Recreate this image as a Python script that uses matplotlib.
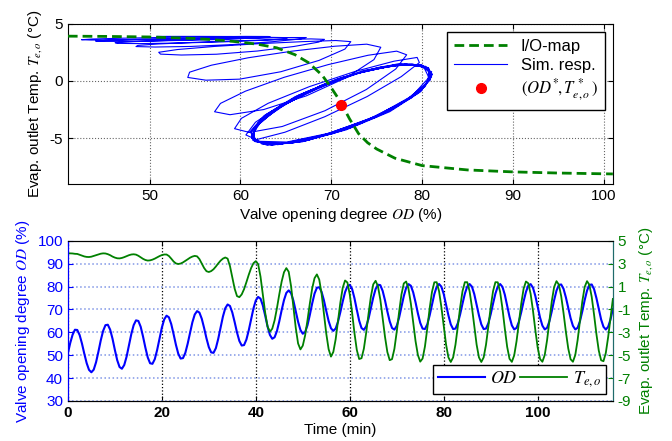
import numpy as np
import matplotlib
matplotlib.use("Agg")
import matplotlib.pyplot as plt

plt.rcParams['font.family'] = ['Liberation Sans', 'DejaVu Sans']
plt.rcParams['mathtext.fontset'] = 'stix'
plt.rcParams['axes.unicode_minus'] = False

# time axis (min), sampled every 0.5 min
time_min = np.arange(0, 116.01, 0.5)

# valve opening degree OD (%)
od = [
    50.8, 55.3, 58.9, 61.1, 61.0, 58.8, 55.05, 50.6, 46.5, 43.55,
    42.5, 43.65, 46.9, 51.5, 56.45, 60.6, 63.1, 63.3, 61.15, 57.2,
    52.3, 47.8, 44.8, 44.05, 45.7, 49.35, 54.2, 59.2, 63.1, 65.2,
    64.95, 62.4, 58.1, 53.25, 49.0, 46.45, 46.2, 48.25, 52.25, 57.15,
    62.0, 65.6, 67.25, 66.55, 63.6, 59.2, 54.5, 50.6, 48.5, 48.7,
    51.0, 55.0, 59.75, 64.35, 67.75, 69.25, 68.6, 65.9, 61.85, 57.35,
    53.5, 51.2, 51.0, 53.05, 57.1, 62.0, 66.85, 70.5, 72.15, 71.5,
    68.65, 64.45, 59.9, 56.2, 54.2, 54.4, 56.8, 60.85, 65.7, 70.4,
    73.9, 75.45, 74.7, 71.7, 67.25, 62.55, 58.85, 57.15, 57.8, 60.55,
    64.8, 69.65, 74.05, 77.2, 78.3, 77.1, 73.85, 69.3, 64.6, 61.0,
    59.35, 60.1, 63.05, 67.6, 72.6, 76.9, 79.45, 79.7, 77.7, 73.95,
    69.3, 64.9, 61.75, 60.6, 61.65, 64.65, 68.85, 73.45, 77.55, 80.1,
    80.75, 78.9, 74.9, 69.85, 65.1, 61.85, 61.05, 62.6, 66.0, 70.5,
    75.2, 78.9, 80.8, 80.6, 78.1, 73.95, 69.1, 64.8, 61.85, 61.15,
    62.8, 66.4, 71.1, 75.8, 79.4, 81.05, 80.35, 77.45, 73.1, 68.25,
    64.1, 61.6, 61.4, 63.45, 67.35, 72.1, 76.7, 79.9, 81.1, 79.95,
    76.7, 72.1, 67.35, 63.45, 61.4, 61.6, 63.95, 67.9, 72.55, 76.9,
    80.0, 81.1, 79.95, 76.7, 72.1, 67.35, 63.45, 61.4, 61.6, 63.95,
    67.9, 72.55, 76.9, 80.0, 81.1, 79.85, 76.45, 71.65, 66.8, 63.0,
    61.25, 61.9, 64.65, 68.8, 73.5, 77.65, 80.4, 81.05, 79.45, 75.85,
    71.15, 66.45, 62.9, 61.25, 61.95, 64.85, 69.2, 74.05, 78.2, 80.7,
    80.9, 79.0, 75.25, 70.65, 66.2, 62.8, 61.25, 61.95, 64.85, 69.2,
    74.05, 78.2, 80.7, 80.9, 78.85, 74.95, 70.2, 65.6, 62.4, 61.2,
    62.4, 65.6, 70.2]

# evaporator outlet temperature Te,o (degC)
te = [
    3.9, 3.9, 3.89, 3.86, 3.85, 3.78, 3.70, 3.63, 3.59, 3.58,
    3.61, 3.67, 3.74, 3.81, 3.87, 3.9, 3.89, 3.83, 3.74, 3.62,
    3.53, 3.47, 3.46, 3.5, 3.57, 3.66, 3.74, 3.8, 3.82, 3.79,
    3.69, 3.56, 3.42, 3.32, 3.27, 3.29, 3.35, 3.44, 3.55, 3.66,
    3.75, 3.8, 3.8, 3.67, 3.44, 3.19, 3.02, 2.97, 3.01, 3.11,
    3.24, 3.38, 3.52, 3.62, 3.68, 3.64, 3.4, 3.02, 2.62, 2.34,
    2.27, 2.35, 2.51, 2.75, 3.02, 3.26, 3.44, 3.54, 3.44, 2.79,
    1.8, 0.81, 0.16, 0.07, 0.31, 0.77, 1.38, 2.03, 2.61, 3.04,
    3.22, 2.95, 1.87, 0.31, -1.3, -2.5, -2.95, -2.69, -1.96, -0.89,
    0.32, 1.43, 2.25, 2.61, 2.29, 1.05, -0.75, -2.6, -3.98, -4.5,
    -4.17, -3.27, -1.95, -0.49, 0.83, 1.73, 2.06, 1.61, 0.38, -1.36,
    -3.12, -4.48, -5.13, -4.72, -3.61, -2.03, -0.4, 0.89, 1.53, 1.35,
    0.3, -1.3, -3.08, -4.55, -5.34, -5.27, -4.44, -3.03, -1.38, 0.13,
    1.19, 1.5, 1.02, -0.13, -1.75, -3.4, -4.73, -5.44, -5.35, -4.45,
    -2.95, -1.24, 0.3, 1.27, 1.44, 0.81, -0.48, -2.13, -3.77, -4.99,
    -5.57, -5.3, -4.25, -2.66, -0.92, 0.53, 1.37, 1.38, 0.6, -0.8,
    -2.48, -4.08, -5.2, -5.6, -5.2, -4.08, -2.48, -0.8, 0.6, 1.38,
    1.38, 0.6, -0.8, -2.48, -4.08, -5.2, -5.6, -5.2, -4.08, -2.48,
    -0.8, 0.6, 1.38, 1.37, 0.54, -0.93, -2.68, -4.27, -5.32, -5.59,
    -5.02, -3.78, -2.15, -0.5, 0.81, 1.44, 1.28, 0.35, -1.12, -2.82,
    -4.35, -5.34, -5.58, -4.99, -3.68, -1.97, -0.29, 0.96, 1.47, 1.17,
    0.16, -1.32, -2.96, -4.41, -5.36, -5.58, -4.99, -3.68, -1.97, -0.29,
    0.96, 1.47, 1.15, 0.09, -1.47, -3.16, -4.6, -5.45, -5.53, -4.8,
    -3.41, -1.71, -0.09]

# static I/O map OD -> Te,o
io_od = [41, 45, 50, 55, 58, 60, 62, 64, 66, 67.5, 69, 70, 71, 72, 73,
         74, 75, 77, 80, 85, 90, 95, 101]
io_te = [3.92, 3.9, 3.85, 3.72, 3.55, 3.4, 3.2, 2.9, 2.3, 1.6, 0.5, -0.6,
         -1.8, -3.3, -4.6, -5.4, -5.95, -6.75, -7.4, -7.78, -7.95, -8.05, -8.13]

# operating point
op_od = [71.1]
op_te = [-2.1]

green = '#008000'
fs = 11

fig = plt.figure(figsize=(6.72, 4.41), dpi=100)
ax1 = fig.add_axes([0.101, 0.583, 0.811, 0.363])
ax2 = fig.add_axes([0.101, 0.091, 0.811, 0.363])
ax3 = ax2.twinx()

# top: phase plot
ax1.plot(io_od, io_te, color=green, lw=2, linestyle='--', dashes=(3.5, 1.8),
         label='I/O-map', zorder=3)
ax1.plot(od, te, color='b', lw=0.8, label='Sim. resp.', zorder=2)
ax1.plot(op_od, op_te, 'o', color='r', ms=7, mec='r',
         label=r'$(OD^{*}\!,T_{e,o}^{\,*}\,)$', zorder=4)
ax1.set_xlim(41, 101)
ax1.set_ylim(-9, 5)
ax1.set_xticks([50, 60, 70, 80, 90, 100])
ax1.set_yticks([-5, 0, 5])
ax1.grid(True, color='k', linestyle=':', lw=0.8, alpha=0.6)
ax1.tick_params(direction='in', labelsize=fs, top=True, right=True)
ax1.set_xlabel('Valve opening degree $OD$ (%)', fontsize=fs, labelpad=2)
ax1.set_ylabel('Evap. outlet Temp. $T_{e,o}$ (°C)', fontsize=fs)
leg1 = ax1.legend(loc='upper right', fontsize=12, fancybox=False,
                  edgecolor='k', framealpha=1, handlelength=3.2,
                  borderpad=0.4, labelspacing=0.25)
leg1.get_frame().set_linewidth(1)

# bottom: time responses
l1, = ax2.plot(time_min, od, color='b', lw=1.5, label='$OD$')
l2, = ax3.plot(time_min, te, color=green, lw=1.3, label='$T_{e,o}$')
ax2.set_xlim(0, 116)
ax2.set_ylim(30, 100)
ax3.set_ylim(-9, 5)
ax2.set_xticks([0, 20, 40, 60, 80, 100])
ax2.set_yticks(np.arange(30, 101, 10))
ax3.set_yticks(np.arange(-9, 6, 2))
ax2.grid(True, axis='x', color='k', linestyle=':', lw=0.9)
ax2.grid(True, axis='y', color='#8096e6', linestyle=':', lw=1.1)
ax2.tick_params(direction='in', labelsize=fs, top=True)
ax2.tick_params(axis='y', colors='b')
ax3.tick_params(direction='in', labelsize=fs, colors=green)
for lab in ax2.get_xticklabels():
    lab.set_fontweight('bold')
for a in (ax2, ax3):
    a.spines['left'].set_color('b')
    a.spines['right'].set_color('#1f6b6b')
ax2.set_xlabel('Time (min)', fontsize=fs, labelpad=2)
ax2.set_ylabel('Valve opening degree $OD$ (%)', fontsize=fs, color='b')
ax3.set_ylabel('Evap. outlet Temp. $T_{e,o}$ (°C)', fontsize=fs, color=green)
leg2 = ax3.legend([l1, l2], ['$OD$', '$T_{e,o}$'], loc='lower right', ncol=2,
                  fontsize=13, fancybox=False, edgecolor='k', framealpha=1,
                  handlelength=2.6, columnspacing=0.15, handletextpad=0.3,
                  borderpad=0.25, borderaxespad=0.4)
leg2.get_frame().set_linewidth(1)

fig.savefig('out.png', dpi=100)
